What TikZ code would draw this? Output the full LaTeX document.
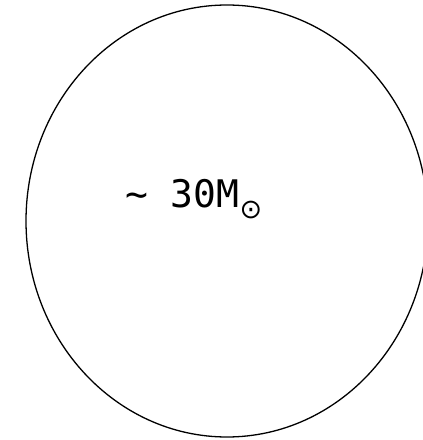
\documentclass[tikz,border=0pt]{standalone}
\usepackage{fontspec}
\setmonofont{DejaVu Sans Mono}
\newfontfamily\symfont{DejaVu Sans}
\usetikzlibrary{shapes.geometric}
\tikzset{
  star/.style={draw=black, line width=1.3pt, ellipse, inner sep=0pt},
  masslabel/.style={font=\ttfamily\fontsize{38}{40}\selectfont, inner sep=0pt}
}
\begin{document}
\begin{tikzpicture}
\useasboundingbox (0pt,0pt) rectangle (423pt,440pt);
\node[star, minimum width=402pt, minimum height=432pt] (body) at (227pt,219pt) {};
\node[masslabel, anchor=base west] (mass) at (125pt,232pt) {\char`\~{} 30M\raisebox{-11pt}{\symfont\fontsize{27}{27}\selectfont ⊙}};
\end{tikzpicture}
\end{document}
